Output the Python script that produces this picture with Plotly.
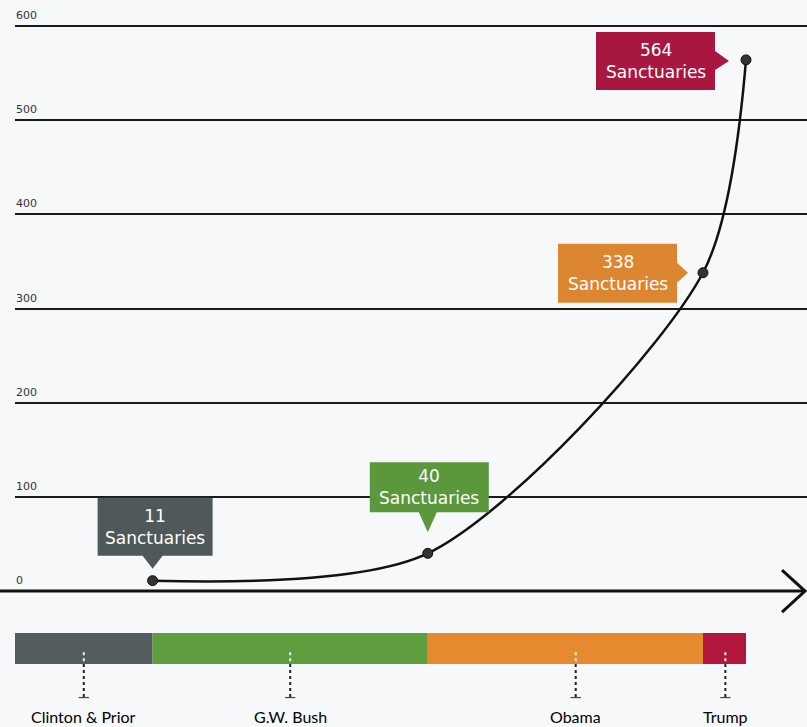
import plotly.graph_objects as go

# ---- data ----
years = [2001, 2009, 2017, 2018.25]          # end of each era
counts = [11, 40, 338, 564]                   # sanctuary jurisdictions
era_names = ["Clinton & Prior", "G.W. Bush", "Obama", "Trump"]
era_start = [1997, 2001, 2009, 2017]
era_end = [2001, 2009, 2017, 2018.25]
era_label_x = [1999, 2005, 2013.3, 2017.65]
y_ticks = [0, 100, 200, 300, 400, 500, 600]

# ---- styles ----
era_colors = ["#535c5e", "#5e9e3e", "#e68a2f", "#b3173d"]
box_colors = ["#4f5959", "#5a983b", "#dc8632", "#a8173f"]
BG = "#f7f8fa"
FONT_BOX = "DejaVu Sans"
FONT_LBL = "Lato"

# callout geometry in pixels relative to its point (dx right, dy up)
callouts = [
    dict(box=(-55, 60, 25, 83), ptr=[(-10, 25), (0, 12), (10, 25)]),
    dict(box=(-58, 61, 41, 91), ptr=[(-9, 41), (0, 21), (9, 41)]),
    dict(box=(-145, -26, -30, 29), ptr=[(-26, 10), (-15, 0), (-26, -10)]),
    dict(box=(-150, -31, -30, 28), ptr=[(-31, 9), (-17, -1), (-31, -10)]),
]

PX_PER_YEAR = 34.4
PLOT_W = 792

fig = go.Figure()

# era bar
fig.add_trace(go.Bar(
    orientation="h", y=[0] * 4, base=era_start,
    x=[e - s for s, e in zip(era_start, era_end)],
    width=1, marker=dict(color=era_colors, line=dict(width=0)),
    yaxis="y2", hoverinfo="skip",
))

# dotted ticks under era labels
for lx in era_label_x:
    fig.add_trace(go.Scatter(x=[lx, lx], y=[-0.12, -0.5], mode="lines",
                             line=dict(color="#f0f0f0", width=2, dash="dot"),
                             yaxis="y2", hoverinfo="skip"))
    fig.add_trace(go.Scatter(x=[lx, lx], y=[-0.5, -1.56], mode="lines",
                             line=dict(color="#222", width=2, dash="dot"),
                             yaxis="y2", hoverinfo="skip"))
    fig.add_trace(go.Scatter(x=[lx - 0.15, lx + 0.15], y=[-1.58, -1.58], mode="lines",
                             line=dict(color="#444", width=1.2),
                             yaxis="y2", hoverinfo="skip"))

# growth curve
fig.add_trace(go.Scatter(
    x=years, y=counts, mode="lines+markers",
    line=dict(shape="spline", smoothing=0.8, color="#111", width=2.5),
    marker=dict(size=10, color="#333", line=dict(color="#111", width=1)),
    hoverinfo="skip",
))

shapes = []
annotations = []

# baseline with open arrow head
shapes.append(dict(type="line", xref="paper", yref="y", xsizemode="pixel",
                   xanchor=1, x0=-810, x1=-3, y0=0, y1=0,
                   line=dict(color="#111", width=3)))
shapes.append(dict(type="path", xref="paper", yref="y", xsizemode="pixel",
                   ysizemode="pixel", xanchor=1, yanchor=0,
                   path="M -25,21 L -2,0 L -25,-21",
                   line=dict(color="#111", width=3)))

# callouts
for x, y, c, col, cnt in zip(years, counts, callouts, box_colors, counts):
    bx0, bx1, by0, by1 = c["box"]
    p = c["ptr"]
    path = (f"M {bx0},{by0} L {bx0},{by1} L {bx1},{by1} L {bx1},{by0} Z "
            f"M {p[0][0]},{p[0][1]} L {p[1][0]},{p[1][1]} L {p[2][0]},{p[2][1]} Z")
    shapes.append(dict(type="path", xref="x", yref="y", xsizemode="pixel",
                       ysizemode="pixel", xanchor=x, yanchor=y, path=path,
                       fillcolor=col, line=dict(width=0), layer="above"))
    annotations.append(dict(x=x, y=y, xref="x", yref="y", showarrow=False,
                            text=f"{cnt}<br>Sanctuaries",
                            xshift=(bx0 + bx1) / 2, yshift=(by0 + by1) / 2,
                            xanchor="center", yanchor="middle",
                            font=dict(family=FONT_BOX, size=17, color="white")))

# y tick labels above the gridlines
for t in y_ticks:
    annotations.append(dict(x=0, y=t, xref="paper", yref="y", showarrow=False,
                            text=str(t), xanchor="left", yanchor="bottom",
                            yshift=2, xshift=-1,
                            font=dict(family=FONT_BOX, size=11, color="#333")))

# era labels
for lx, name in zip(era_label_x, era_names):
    annotations.append(dict(x=lx, y=-2.18, xref="x", yref="y2", showarrow=False,
                            text=name, xanchor="center", yanchor="middle",
                            font=dict(family=FONT_LBL, size=16, color="#000")))

fig.update_layout(
    width=807, height=727,
    margin=dict(l=15, r=0, t=0, b=0),
    paper_bgcolor=BG, plot_bgcolor=BG,
    showlegend=False, barmode="overlay",
    xaxis=dict(range=[1997, 1997 + PLOT_W / PX_PER_YEAR], visible=False, fixedrange=True),
    yaxis=dict(range=[-144.4, 627.6], tickvals=y_ticks[1:], showgrid=True,
               gridcolor="#1a1a1a", gridwidth=1.5, zeroline=False,
               showticklabels=False, ticks="", fixedrange=True),
    yaxis2=dict(overlaying="y", range=[-2.53, 20.92], visible=False, fixedrange=True),
    shapes=shapes, annotations=annotations,
)

fig.write_html("out.html")
